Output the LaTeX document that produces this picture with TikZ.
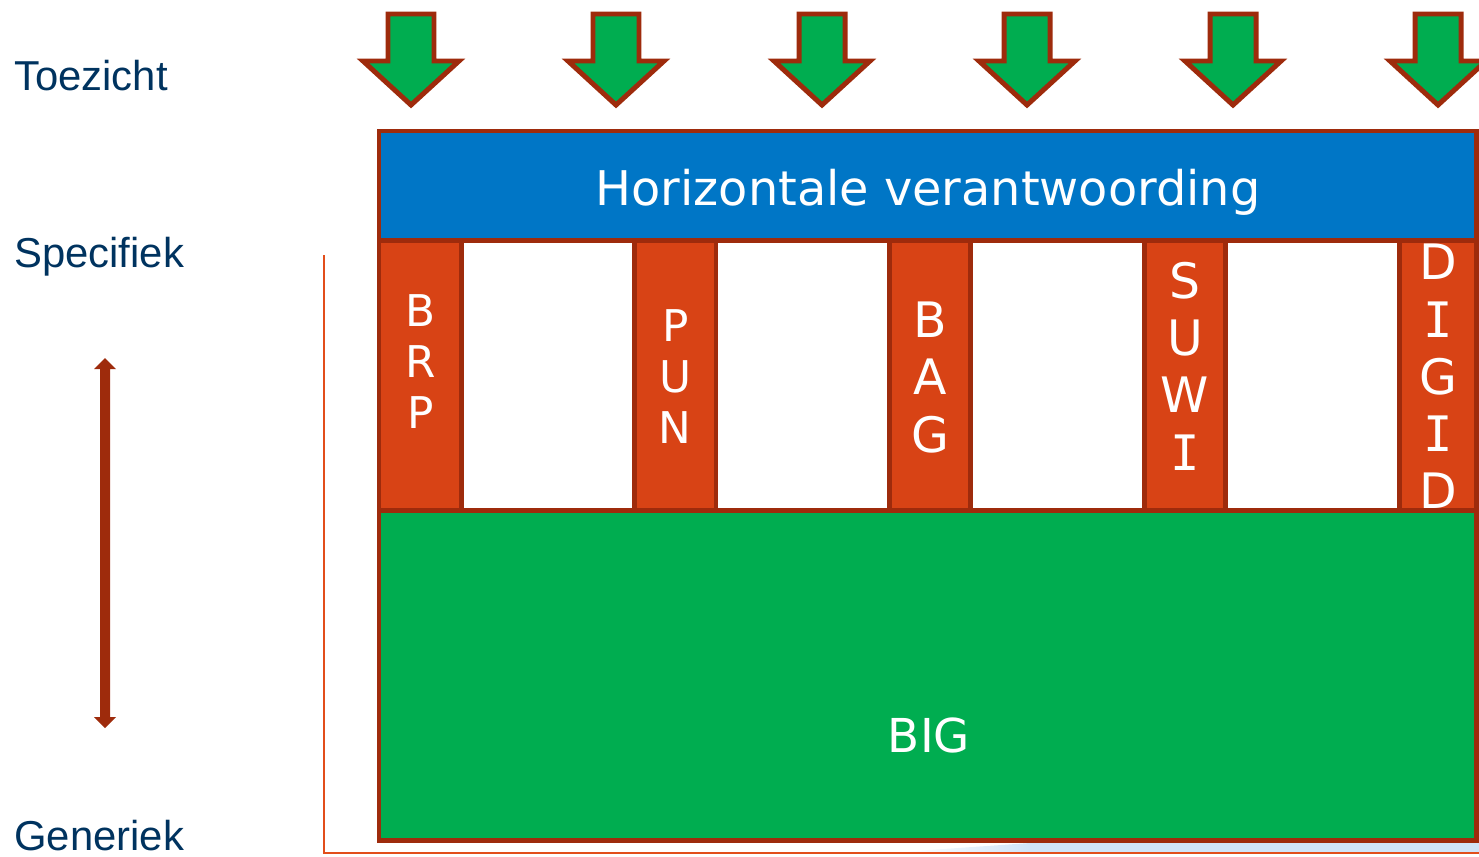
\documentclass[tikz,border=0pt]{standalone}
\usepackage{fontspec}
\setmainfont{Liberation Sans}
\newfontfamily\boxfont{DejaVu Sans}
\newfontfamily\barfont{DejaVu Sans Mono}
% capital I with cross bars
\newcommand{\barI}{{\barfont I}}

\definecolor{rimbrown}{RGB}{158,43,12}
\definecolor{pillarred}{RGB}{216,67,21}
\definecolor{headblue}{RGB}{0,118,198}
\definecolor{basegreen}{RGB}{0,173,80}
\definecolor{labelnavy}{RGB}{0,51,95}
\definecolor{axisred}{RGB}{226,78,27}
\definecolor{shadeblue}{RGB}{208,228,248}

\tikzset{
  side/.style={anchor=base west, inner sep=0pt, text=labelnavy,
    font=\fontsize{23.8}{28}\selectfont},
  boxtext/.style={inner sep=0pt, text=white},
  rim/.style={draw=rimbrown, line width=2.83pt},
}

\begin{document}
\begin{tikzpicture}[x=0.02cm, y=-0.02cm]

%% one unit = one pixel, y runs downwards
\useasboundingbox (0,0) rectangle (1479,856);
\clip (0,0) rectangle (1479,856);

%% ---- Side labels ----
\node[side] (toezicht)  at (14,90)  {Toezicht};
\node[side] (specifiek) at (14,267) {Specifiek};
\node[side] (generiek)  at (14,850) {Generiek};

%% ---- Double arrow specifiek <-> generiek ----
\def\ax{105}
\fill[rimbrown] (\ax-5,369) -- (\ax-11,369) -- (\ax,358) -- (\ax+11,369)
  -- (\ax+5,369) -- (\ax+5,717) -- (\ax+11,717) -- (\ax,728)
  -- (\ax-11,717) -- (\ax-5,717) -- cycle;

%% ---- Faint shadow under the base ----
\fill[shadeblue] (1030,843) rectangle (1479,852);
\shade[left color=white, right color=shadeblue]
  (900,852) -- (1030,843) -- (1030,852) -- cycle;

%% ---- Thin axis line ----
\draw[axisred, line width=1.1pt] (324,255) -- (324,853) -- (1479,853);

%% ---- Supervision arrows (green, pointing down) ----
\foreach \x in {411,616,822,1027,1233,1438} {
  \filldraw[fill=basegreen, rim]
    (\x-23,14) -- (\x+23,14) -- (\x+23,61) -- (\x+48,61)
    -- (\x,105) -- (\x-48,61) -- (\x-23,61) -- cycle;
}

%% ---- Header bar ----
\filldraw[fill=headblue, rim] (379,131) rectangle (1476.5,240.5);
\node[boxtext, anchor=base, font=\boxfont\fontsize{27.2}{32}\selectfont]
  (horizontaal) at (928,205) {Horizontale verantwoording};

%% ---- Generic base ----
\filldraw[fill=basegreen, rim] (379,510.5) rectangle (1476.5,840);
\node[boxtext, anchor=base, font=\boxfont\fontsize{26.6}{32}\selectfont]
  (big) at (929,752) {BIG};

%% ---- Pillars: left/right edge, text centre, letters, size/skip ----
\foreach \l/\r/\cy/\word/\fs/\ls [count=\i] in {
    379/461.5/361.5/{B\\R\\P}/24.9/28.9,
    634.5/716/376.5/{P\\U\\N}/24.9/28.9,
    889.5/970.5/377.5/{B\\A\\G}/27.8/32.6,
    1144.5/1225.5/366/{S\\U\\W\\\barI}/27.8/32.6,
    1399.5/1476.5/376.5/{D\\\barI\\G\\\barI\\D}/27.8/32.6} {
  \filldraw[fill=pillarred, rim] (\l,240.5) rectangle (\r,510.5);
  \node[boxtext, align=center, font=\boxfont\fontsize{\fs}{\ls}\selectfont]
    (pillar\i) at ({(\l+\r)/2},\cy) {\word};
}

\end{tikzpicture}
\end{document}
